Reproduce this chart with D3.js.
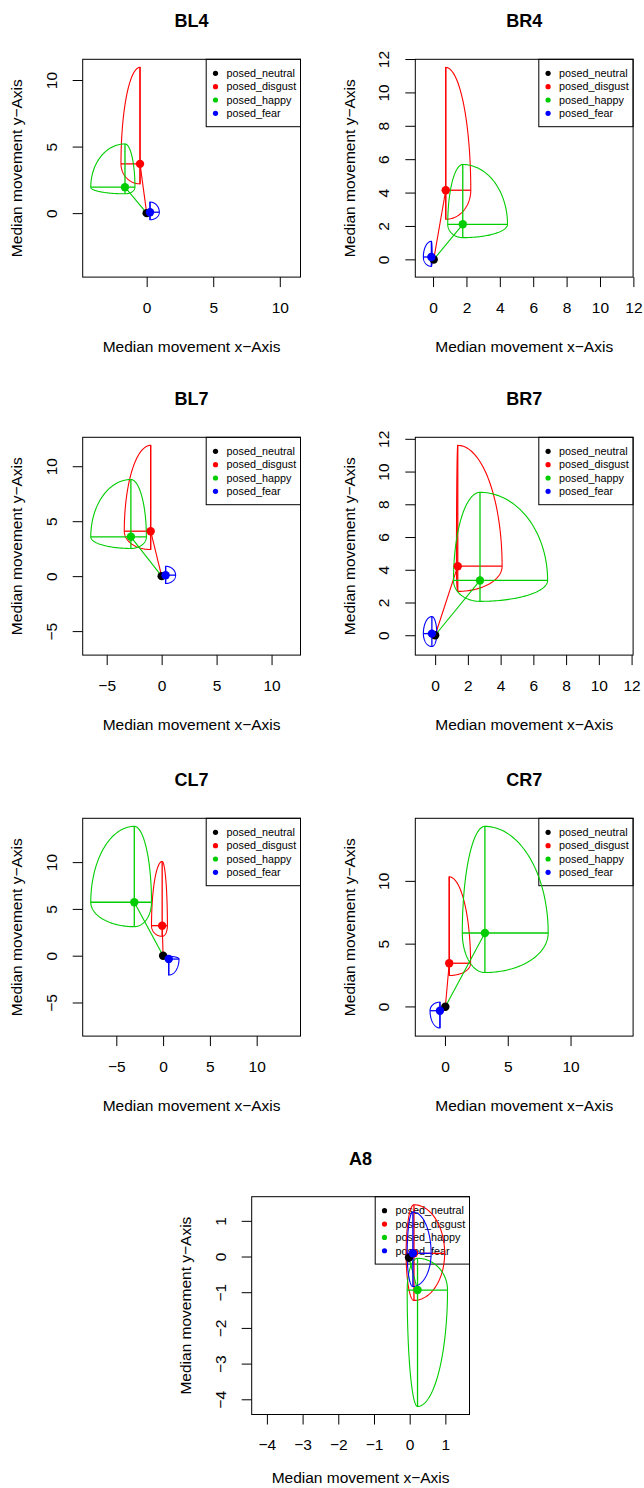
<!DOCTYPE html>
<html>
<head>
<meta charset="utf-8">
<script src="https://cdn.jsdelivr.net/npm/d3@7"></script>
<style>
  body { margin: 0; background: #fff; }
  svg { display: block; font-family: "Liberation Sans", Arial, sans-serif; }
</style>
</head>
<body>
<div id="chart"></div>
<script>
// panels (one per marker) and emotions (one per series)
var panels = ["BL4", "BR4", "BL7", "BR7", "CL7", "CR7", "A8"];
var emotions = ["posed_neutral", "posed_disgust", "posed_happy", "posed_fear"];
var colors = ["#000000", "#FF0000", "#00CD00", "#0000FF"];

// median movement, rows = panels, columns = emotions
var medX = [
  [0, -0.5, -1.63, 0.25],
  [0.04, 0.76, 1.78, -0.1],
  [0, -1.0, -2.8, 0.36],
  [0, 1.38, 2.74, -0.2],
  [0, -0.1, -3.08, 0.6],
  [0.03, 0.34, 3.18, -0.4],
  [-0.02, 0.12, 0.22, 0.09]
];
var medY = [
  [0, 3.7, 1.95, 0.07],
  [-0.01, 4.14, 2.1, 0.14],
  [0, 4.09, 3.58, 0.09],
  [0, 4.22, 3.35, 0.1],
  [0, 3.21, 5.71, -0.36],
  [-0.03, 3.44, 5.85, -0.34],
  [-0.03, 0.09, -0.94, 0.09]
];
// spread of the movement (lower / upper bound on each axis)
var lowX = [
  [0, -1.93, -4.2, 0.25],
  [0.04, 0.76, 0.88, -0.58],
  [0, -3.4, -6.45, 0.36],
  [0, 1.3, 1.12, -0.72],
  [0, -1.24, -7.73, 0.6],
  [0.03, 0.34, 1.38, -1.19],
  [-0.06, -0.1, -0.07, -0.07]
];
var highX = [
  [0, -0.5, -0.88, 0.95],
  [0.04, 2.26, 4.46, -0.05],
  [0, -1.0, -1.39, 1.27],
  [0, 4.09, 6.87, 0.1],
  [0, 0.46, -1.24, 1.7],
  [0.03, 2.04, 8.22, -0.4],
  [0.01, 0.98, 1.06, 0.6]
];
var lowY = [
  [0, 2.2, 1.45, -0.5],
  [-0.01, 2.4, 1.3, -0.42],
  [0, 2.42, 2.52, -0.67],
  [0, 2.68, 2.07, -0.69],
  [0, 2.07, 3.1, -2.07],
  [-0.03, 2.46, 2.7, -1.72],
  [-0.15, -1.23, -4.2, -0.84]
];
var highY = [
  [0, 10.95, 5.2, 0.83],
  [-0.01, 11.5, 5.68, 1.08],
  [0, 11.9, 8.79, 0.9],
  [0, 11.6, 8.73, 1.14],
  [0, 10.07, 13.82, -0.07],
  [-0.03, 10.32, 14.34, 0.34],
  [0.02, 1.45, -0.05, 1.25]
];

var xTicks = [[0, 5, 10], [0, 2, 4, 6, 8, 10, 12], [-5, 0, 5, 10], [0, 2, 4, 6, 8, 10, 12], [-5, 0, 5, 10], [0, 5, 10], [-4, -3, -2, -1, 0, 1]];
var yTicks = [[0, 5, 10], [0, 2, 4, 6, 8, 10, 12], [-5, 0, 5, 10], [0, 2, 4, 6, 8, 10, 12], [-5, 0, 5, 10], [0, 5, 10], [-4, -3, -2, -1, 0, 1]];

// layout (plot box top-left corners)
var W = 644, H = 1488, size = 217.8;
var boxPos = [[82.7, 59.3], [415.3, 59.3], [82.7, 437.3], [415.3, 437.3], [82.7, 818.3], [415.3, 818.3], [251.7, 1196.7]];

var fmt = function(d) { return d < 0 ? "\u2212" + Math.abs(d) : String(d); };

var svg = d3.select("#chart").append("svg")
  .attr("width", W)
  .attr("height", H);

panels.forEach(function(name, p) {
  var bx = boxPos[p][0], by = boxPos[p][1];

  // same limits on both axes, R style 4% padding
  var all = lowX[p].concat(highX[p], lowY[p], highY[p], medX[p], medY[p]);
  var lo = d3.min(all), hi = d3.max(all);
  var pad = (hi - lo) * 0.04;

  var x = d3.scaleLinear().domain([lo - pad, hi + pad]).range([0, size]);
  var y = d3.scaleLinear().domain([lo - pad, hi + pad]).range([size, 0]);

  var g = svg.append("g").attr("transform", "translate(" + bx + "," + by + ")");

  // title
  g.append("text")
    .attr("x", size / 2)
    .attr("y", -32)
    .attr("text-anchor", "middle")
    .style("font-size", "18px")
    .style("font-weight", "bold")
    .text(name);

  // x axis
  var xa = g.append("g")
    .attr("transform", "translate(0," + size + ")")
    .call(d3.axisBottom(x).tickValues(xTicks[p]).tickSize(10).tickPadding(14.5).tickFormat(fmt));
  xa.select(".domain").remove();
  xa.selectAll("text").style("font-size", "15.5px").attr("fill", "#000").style("font-family", "Liberation Sans, Arial, sans-serif");
  xa.selectAll("line").attr("stroke", "#000");

  // y axis, labels turned like R
  var ya = g.append("g")
    .call(d3.axisLeft(y).tickValues(yTicks[p]).tickSize(10).tickFormat(fmt));
  ya.select(".domain").remove();
  ya.selectAll("line").attr("stroke", "#000");
  ya.selectAll("text")
    .attr("x", null).attr("dy", null)
    .attr("text-anchor", "middle")
    .attr("transform", "translate(-26,0) rotate(-90)")
    .attr("fill", "#000")
    .style("font-size", "15.5px")
    .style("font-family", "Liberation Sans, Arial, sans-serif");

  // axis titles (kept inside the page for the bottom panel)
  var xtY = Math.min(size + 74.5, H - 5 - by);
  g.append("text")
    .attr("x", size / 2)
    .attr("y", xtY)
    .attr("text-anchor", "middle")
    .style("font-size", "15.5px")
    .text("Median movement x\u2212Axis");
  g.append("text")
    .attr("transform", "translate(-60.4," + (size / 2) + ") rotate(-90)")
    .attr("text-anchor", "middle")
    .style("font-size", "15.5px")
    .text("Median movement y\u2212Axis");

  // legend (drawn first, data goes over it)
  var lw = 94.3, lh = 67.4;
  var lg = g.append("g").attr("transform", "translate(" + (size - lw) + ",0)");
  lg.append("rect")
    .attr("width", lw).attr("height", lh)
    .attr("fill", "#fff").attr("stroke", "#000");
  emotions.forEach(function(e, i) {
    lg.append("circle")
      .attr("cx", 9.3).attr("cy", 14 + i * 13.35).attr("r", 2.6)
      .attr("fill", colors[i]);
    lg.append("text")
      .attr("x", 20.3).attr("y", 14 + i * 13.35).attr("dy", "0.35em")
      .style("font-size", "10.8px")
      .text(e);
  });

  var line = d3.line().x(function(d) { return x(d[0]); }).y(function(d) { return y(d[1]); });

  emotions.forEach(function(e, i) {
    var mx = medX[p][i], my = medY[p][i];

    // outline made of four quarter ellipses
    var pts = [];
    for (var k = 0; k <= 200; k++) {
      var t = k / 200 * 2 * Math.PI;
      var c = Math.cos(t), s = Math.sin(t);
      var rx = c >= 0 ? highX[p][i] - mx : mx - lowX[p][i];
      var ry = s >= 0 ? highY[p][i] - my : my - lowY[p][i];
      pts.push([mx + rx * c, my + ry * s]);
    }
    g.append("path")
      .attr("d", line(pts))
      .attr("fill", "none")
      .attr("stroke", colors[i])
      .attr("stroke-width", 1.1);

    // cross
    g.append("path")
      .attr("d", line([[lowX[p][i], my], [highX[p][i], my]]))
      .attr("stroke", colors[i]).attr("stroke-width", 1.3);
    g.append("path")
      .attr("d", line([[mx, lowY[p][i]], [mx, highY[p][i]]]))
      .attr("stroke", colors[i]).attr("stroke-width", 1.3);

    // line from neutral
    if (i > 0) {
      g.append("path")
        .attr("d", line([[medX[p][0], medY[p][0]], [mx, my]]))
        .attr("stroke", colors[i]).attr("stroke-width", 1.1);
    }
  });

  emotions.forEach(function(e, i) {
    g.append("circle")
      .attr("cx", x(medX[p][i]))
      .attr("cy", y(medY[p][i]))
      .attr("r", 4.2)
      .attr("fill", colors[i]);
  });

  // box
  g.append("rect")
    .attr("width", size).attr("height", size)
    .attr("fill", "none").attr("stroke", "#000");
});
</script>
</body>
</html>
